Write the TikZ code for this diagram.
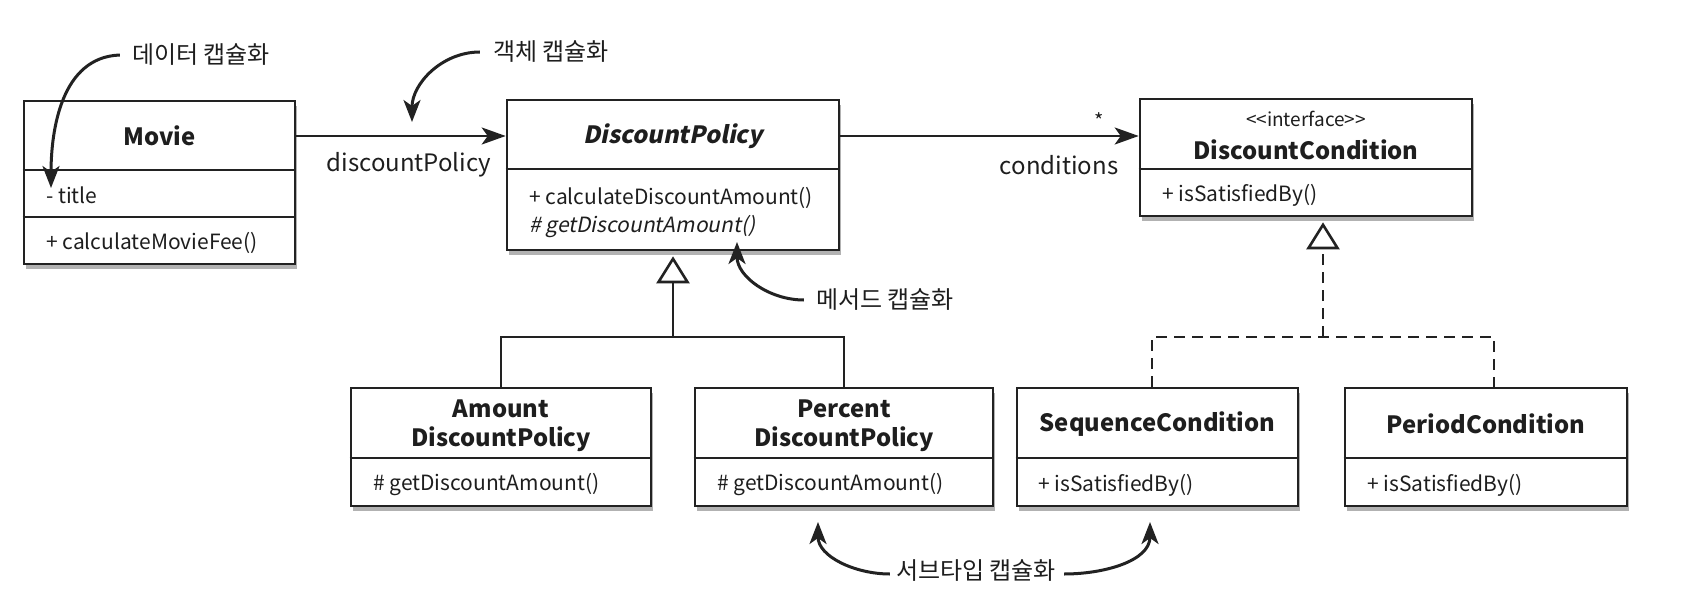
\documentclass[tikz,border=0pt]{standalone}
\usepackage{fontspec}
\setmainfont{Noto Sans CJK KR}[AutoFakeSlant=0.2]
\newfontfamily\slantfam{Noto Sans CJK KR}[FakeSlant=0.2]
\usetikzlibrary{arrows.meta,shadows}
\definecolor{inkc}{HTML}{222222}
\definecolor{txtc}{HTML}{1E1E1E}
\begin{document}
\begin{tikzpicture}[x=1pt,y=-1pt,
  umlbox/.style={draw=inkc, line width=2.6pt, fill=white, inner sep=0pt,
    drop shadow={shadow xshift=2pt,shadow yshift=-5pt,fill=black!60,opacity=0.5}},
  divider/.style={draw=inkc, line width=2.4pt},
  ttl/.style={font=\bfseries\fontsize{23.8}{29}\selectfont, text=txtc, inner sep=0pt, align=center},
  mem/.style={font=\fontsize{21}{26}\selectfont, text=txtc, inner sep=0pt, anchor=west},
  lbl/.style={font=\fontsize{24}{29}\selectfont, text=txtc, inner sep=0pt},
  ann/.style={font=\fontsize{24}{29}\selectfont, text=txtc, inner sep=0pt},
  assoc/.style={draw=inkc, line width=2.6pt, -{Stealth[length=24pt,width=17pt,inset=6pt]}},
  note/.style={draw=inkc, line width=3pt, -{Stealth[length=22pt,width=17pt,inset=6pt]}},
  gen/.style={draw=inkc, line width=2.6pt},
  real/.style={draw=inkc, line width=2.6pt, dash pattern=on 11pt off 7pt},
  tri/.style={-{Triangle[length=27pt,width=33pt,fill=white]}}
]
\useasboundingbox (0,0) rectangle (1686,604);

% ---------- boxes ----------
\node[umlbox, minimum width=271pt, minimum height=163pt] (movie) at (159.5,182.5) {};
\node[umlbox, minimum width=332pt, minimum height=150pt] (dp) at (673,175) {};
\node[umlbox, minimum width=332pt, minimum height=117pt] (dc) at (1306,157.5) {};
\node[umlbox, minimum width=300pt, minimum height=118pt] (amount) at (501,447) {};
\node[umlbox, minimum width=298pt, minimum height=118pt] (percent) at (844,447) {};
\node[umlbox, minimum width=281pt, minimum height=118pt] (seq) at (1157.5,447) {};
\node[umlbox, minimum width=282pt, minimum height=118pt] (per) at (1486,447) {};

% ---------- dividers ----------
\draw[divider] (movie.west |- 0,170) -- (movie.east |- 0,170);
\draw[divider] (movie.west |- 0,217) -- (movie.east |- 0,217);
\draw[divider] (dp.west |- 0,169) -- (dp.east |- 0,169);
\draw[divider] (dc.west |- 0,169) -- (dc.east |- 0,169);
\draw[divider] (amount.west |- 0,458) -- (amount.east |- 0,458);
\draw[divider] (percent.west |- 0,458) -- (percent.east |- 0,458);
\draw[divider] (seq.west |- 0,458) -- (seq.east |- 0,458);
\draw[divider] (per.west |- 0,458) -- (per.east |- 0,458);

% ---------- texts ----------
\node[ttl] (movieT) at (159.5,136) {Movie};
\node[mem] (movieA) at (46,195) {- title};
\node[mem] (movieM) at (46,243) {+ calculateMovieFee()};

\node[ttl, font=\slantfam\bfseries\fontsize{23.8}{29}\selectfont] (dpT) at (673,136) {DiscountPolicy};
\node[mem] (dpM1) at (529,198) {+ calculateDiscountAmount()};
\node[mem] (dpM2) at (529,227) {\itshape\# getDiscountAmount()};

\node[ttl, font=\fontsize{19}{22}\selectfont] (dcS) at (1306,119) {<\kern0pt<interface>\kern0pt>};
\node[ttl] (dcT) at (1306,150) {DiscountCondition};
\node[mem] (dcM) at (1162,195) {+ isSatisfiedBy()};

\node[ttl] (amT) at (501,426) {Amount\\DiscountPolicy};
\node[mem] (amM) at (373,485) {\# getDiscountAmount()};
\node[ttl] (peT) at (844,426) {Percent\\DiscountPolicy};
\node[mem] (peM) at (717,485) {\# getDiscountAmount()};
\node[ttl] (sqT) at (1157.5,424) {SequenceCondition};
\node[mem] (sqM) at (1038,485) {+ isSatisfiedBy()};
\node[ttl] (pdT) at (1486,424) {PeriodCondition};
\node[mem] (pdM) at (1367,485) {+ isSatisfiedBy()};

% ---------- association labels ----------
\node[lbl] (lbl1) at (409,165) {discountPolicy};
\node[lbl] (lbl2) at (1059,165) {conditions};
\node[lbl, font=\fontsize{20}{24}\selectfont] (star) at (1099,121) {*};

% ---------- associations ----------
\draw[assoc] (movieT -| movie.east) -- (movieT -| dp.west);
\draw[assoc] (dpT -| dp.east) -- (dpT -| dc.west);

% ---------- generalization ----------
\coordinate (gbar) at (673,337);
\draw[gen] (amount.north) |- (gbar) -| (percent.north);
\draw[gen, tri] (gbar) -- ([yshift=-5pt]dp.south);

% ---------- realization ----------
\coordinate (rbar) at (1323,337);
\draw[real] ([xshift=-5.5pt]seq.north) |- (rbar) -| ([xshift=8pt]per.north);
\draw[real, tri] (rbar) -- ([xshift=17pt,yshift=-5pt]dc.south);

% ---------- annotations ----------
\node[ann] (ann1) at (201,55) {데이터 캡슐화};
\node[ann] (ann2) at (551,52) {객체 캡슐화};
\node[ann] (ann3) at (885,300) {메서드 캡슐화};
\node[ann] (ann4) at (976,571) {서브타입 캡슐화};

\coordinate (t1) at (51,188);
\coordinate (t2) at (412,122);
\coordinate (t3) at (737,242);
\coordinate (t4) at (818,522);
\coordinate (t5) at (1150,522);

\draw[note] ([xshift=-12pt]ann1.west) to[out=182,in=90] (t1);
\draw[note] ([xshift=-13pt]ann2.west) to[out=180,in=90] (t2);
\draw[note] ([xshift=-12pt]ann3.west) to[out=180,in=-90] (t3);
\draw[note] ([xshift=-6pt,yshift=-3pt]ann4.west) to[out=180,in=-90] (t4);
\draw[note] ([xshift=8pt,yshift=-3pt]ann4.east) to[out=0,in=-90] (t5);
\end{tikzpicture}
\end{document}
